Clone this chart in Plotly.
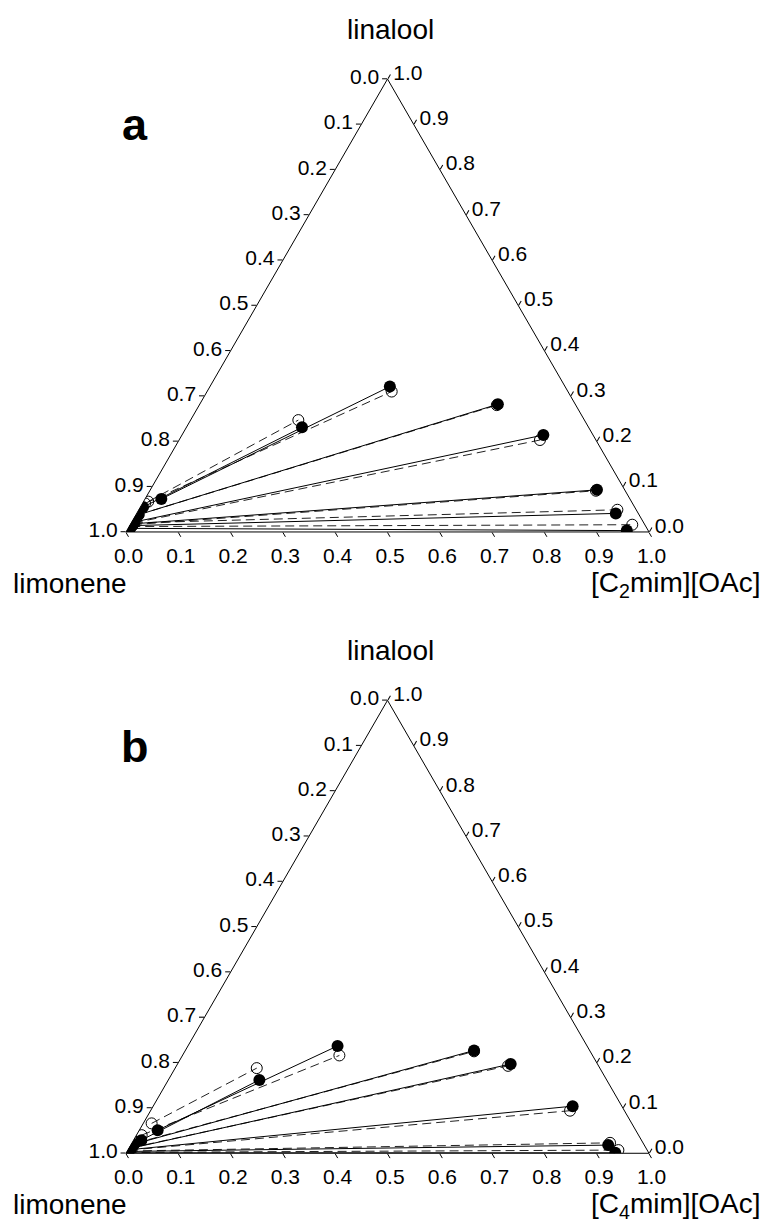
import plotly.graph_objects as go

# ---------------- data (mole fractions) ----------------
# Panel a: limonene + linalool + [C2mim][OAc]
# experimental tie lines (filled symbols, solid lines)
a_exp_raff_lin = [0.073, 0.055, 0.038, 0.022, 0.018, 0.014, 0.008]
a_exp_raff_il = [0.031, 0.005, 0.005, 0.005, 0.005, 0.005, 0.004]
a_exp_ext_lin = [0.321, 0.231, 0.282, 0.214, 0.093, 0.041, 0.003]
a_exp_ext_il = [0.344, 0.221, 0.570, 0.691, 0.854, 0.916, 0.956]
# calculated tie lines (open symbols, dashed lines)
a_cal_raff_lin = [0.063, 0.067, 0.038, 0.020, 0.016, 0.020, 0.012]
a_cal_raff_il = [0.005, 0.009, 0.005, 0.005, 0.005, 0.005, 0.004]
a_cal_ext_lin = [0.310, 0.247, 0.280, 0.203, 0.091, 0.049, 0.016]
a_cal_ext_il = [0.353, 0.206, 0.569, 0.690, 0.853, 0.915, 0.960]

# Panel b: limonene + linalool + [C4mim][OAc]
b_exp_raff_lin = [0.051, 0.029, 0.020, 0.011, 0.008, 0.004, 0.001]
b_exp_raff_il = [0.035, 0.015, 0.005, 0.004, 0.004, 0.003, 0.002]
b_exp_ext_lin = [0.237, 0.162, 0.227, 0.197, 0.104, 0.018, 0.001]
b_exp_ext_il = [0.286, 0.174, 0.552, 0.637, 0.802, 0.913, 0.935]
b_cal_raff_lin = [0.040, 0.066, 0.022, 0.012, 0.007, 0.005, 0.002]
b_cal_raff_il = [0.010, 0.016, 0.006, 0.004, 0.003, 0.003, 0.002]
b_cal_ext_lin = [0.216, 0.188, 0.225, 0.193, 0.094, 0.023, 0.007]
b_cal_ext_il = [0.300, 0.156, 0.553, 0.634, 0.802, 0.914, 0.938]

tick_vals = [0.0, 0.1, 0.2, 0.3, 0.4, 0.5, 0.6, 0.7, 0.8, 0.9, 1.0]
tick_text = ["1.0", "0.9", "0.8", "0.7", "0.6", "0.5", "0.4", "0.3", "0.2", "0.1", "0.0"]

FONT = "Liberation Sans, Arial, sans-serif"


def tie_path(raff, ext):
    out = []
    for r, e in zip(raff, ext):
        out += [r, e, None]
    return out


fig = go.Figure()


def add_panel(subplot, er_lin, er_il, ee_lin, ee_il, cr_lin, cr_il, ce_lin, ce_il):
    # calculated tie lines (dashed)
    fig.add_trace(go.Scatterternary(
        subplot=subplot, mode="lines",
        a=tie_path(cr_lin, ce_lin), c=tie_path(cr_il, ce_il),
        line=dict(color="#222222", width=1, dash="9px,5px"),
        hoverinfo="skip", showlegend=False, connectgaps=False))
    # experimental tie lines (solid)
    fig.add_trace(go.Scatterternary(
        subplot=subplot, mode="lines",
        a=tie_path(er_lin, ee_lin), c=tie_path(er_il, ee_il),
        line=dict(color="black", width=1),
        hoverinfo="skip", showlegend=False, connectgaps=False))
    # calculated points (open)
    fig.add_trace(go.Scatterternary(
        subplot=subplot, mode="markers",
        a=cr_lin + ce_lin, c=cr_il + ce_il,
        marker=dict(symbol="circle-open", size=11, color="black", line=dict(width=1)),
        showlegend=False))
    # experimental points (filled)
    fig.add_trace(go.Scatterternary(
        subplot=subplot, mode="markers",
        a=er_lin + ee_lin, c=er_il + ee_il,
        marker=dict(symbol="circle", size=12, color="black"),
        showlegend=False))


add_panel("ternary", a_exp_raff_lin, a_exp_raff_il, a_exp_ext_lin, a_exp_ext_il,
          a_cal_raff_lin, a_cal_raff_il, a_cal_ext_lin, a_cal_ext_il)
add_panel("ternary2", b_exp_raff_lin, b_exp_raff_il, b_exp_ext_lin, b_exp_ext_il,
          b_cal_raff_lin, b_cal_raff_il, b_cal_ext_lin, b_cal_ext_il)


def axis(ticks_dir):
    return dict(
        tickmode="array", tickvals=tick_vals, ticktext=tick_text,
        showgrid=False, showline=True, linecolor="black", linewidth=1,
        ticks=ticks_dir, ticklen=5, tickwidth=1, tickcolor="black",
        tickfont=dict(family=FONT, size=21, color="black"),
        title=dict(text=""), min=0)


W, H = 766, 1224


def tern(ydom):
    return dict(
        sum=1, bgcolor="white",
        domain=dict(x=[126 / W, 649 / W], y=ydom),
        aaxis=axis("outside"), baxis=axis("outside"), caxis=axis("outside"))


def px(x):
    return x / W


def py(y):
    return 1 - y / H


annotations = []
for off, lab, il_name in [(0, "a", "[C<sub>2</sub>mim][OAc]"), (621.3, "b", "[C<sub>4</sub>mim][OAc]")]:
    annotations += [
        dict(text="<b>%s</b>" % lab, x=px(135), y=py(125 + off), xref="paper", yref="paper",
             showarrow=False, xanchor="center", yanchor="middle",
             font=dict(family=FONT, size=45, color="black")),
        dict(text="linalool", x=px(390), y=py(29 + off), xref="paper", yref="paper",
             showarrow=False, xanchor="center", yanchor="middle",
             font=dict(family=FONT, size=28, color="black")),
        dict(text="limonene", x=px(70), y=py(583 + off), xref="paper", yref="paper",
             showarrow=False, xanchor="center", yanchor="middle",
             font=dict(family=FONT, size=28, color="black")),
        dict(text=il_name, x=px(676), y=py(584 + off), xref="paper", yref="paper",
             showarrow=False, xanchor="center", yanchor="middle", borderpad=0,
             font=dict(family=FONT, size=28, color="black")),
    ]

fig.update_layout(
    width=W, height=H,
    margin=dict(l=0, r=0, t=0, b=0),
    paper_bgcolor="white", plot_bgcolor="white",
    showlegend=False,
    ternary=tern([py(540.5), py(70.5)]),
    ternary2=tern([py(1161.8), py(691.8)]),
    annotations=annotations,
)

fig.write_html("out.html")
